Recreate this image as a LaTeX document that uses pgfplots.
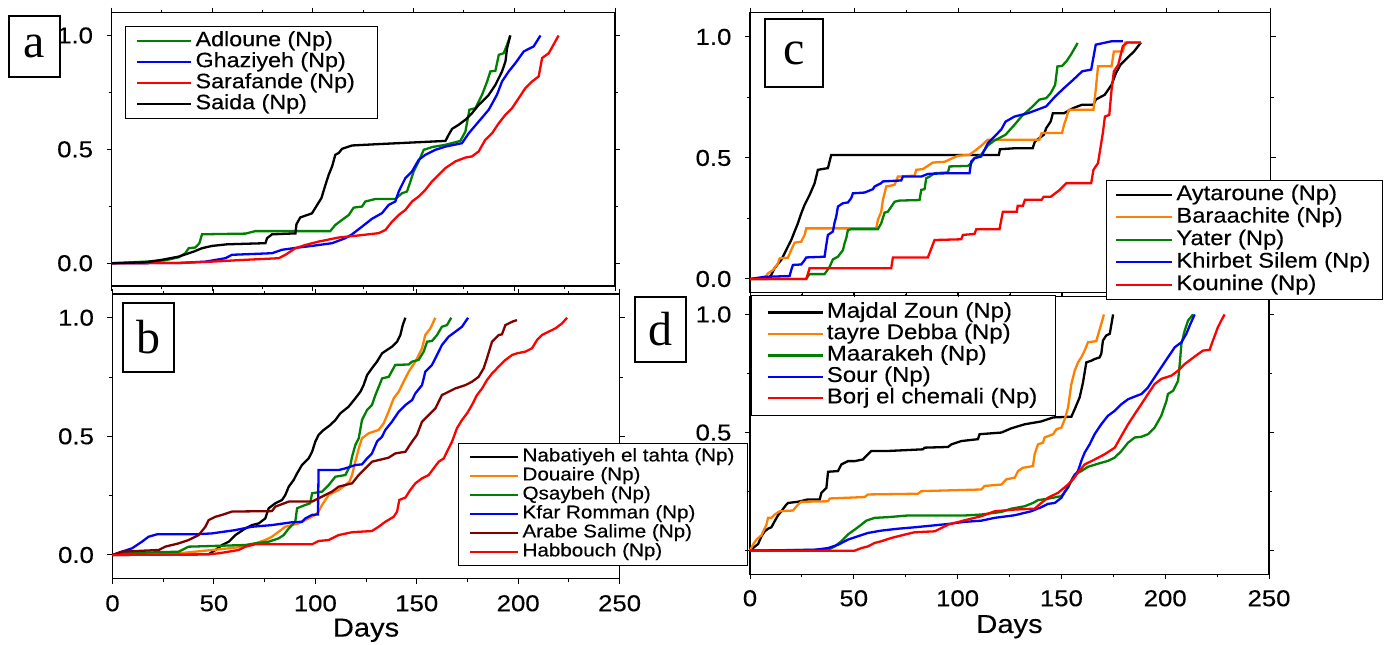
\documentclass[border=0pt]{standalone}
\usepackage{fontspec}
\setmainfont{Liberation Sans}[FakeStretch=1.12, FakeBold=0.3]
\newfontfamily\lblfont{Liberation Serif}
\usepackage{pgfplots}
\pgfplotsset{compat=1.18}

\definecolor{cgreen}{RGB}{0,128,0}
\definecolor{corange}{RGB}{255,128,0}
\definecolor{cmaroon}{RGB}{128,0,0}

\pgfplotsset{
  panel/.style={
    scale only axis, anchor=south west, clip=false,
    xmin=0, xmax=250,
    xtick={0,50,...,250}, ytick={0,0.5,1},
    yticklabels={0.0,0.5,1.0},
    minor x tick num=1, minor y tick num=1,
    tick align=outside,
    major tick length=2.5pt, minor tick length=1.5pt,
    every tick/.style={black, line width=0.5pt},
    axis line style={line width=0.7pt},
    ticklabel style={font=\fontsize{11.5}{13}\selectfont},
    yticklabel style={anchor=east, inner sep=0pt, xshift=-6.6pt},
    xticklabel style={anchor=center, inner sep=0pt, yshift=-9.8pt},
    xlabel style={font=\fontsize{13}{15}\selectfont, at={(axis description cs:0.5,0)}, anchor=center, yshift=-25.8pt},
    every axis plot/.append style={line width=1.15pt},
    legend cell align=left,
  },
  % x, y, font size, text height, text depth, inner ysep, inner xsep, sample length
  lgd/.style n args={8}{
    legend image code/.code={\draw[##1] (0pt,0pt) -- (#8,0pt);},
    legend style={at={(axis description cs:#1,#2)}, anchor=north west,
      draw=black, line width=0.5pt, fill=white, inner ysep=#6, inner xsep=#7,
      font=\fontsize{#3}{#3}\selectfont, row sep=0pt,
      nodes={text height=#4, text depth=#5, inner ysep=0pt, inner xsep=1.5pt}}},
}
\newcommand{\panellabel}[4]{\node[draw, line width=0.8pt, minimum width=#3, minimum height=#4, inner sep=0pt,
  font=\lblfont\fontsize{24}{24}\selectfont] at (axis description cs:#1) {#2};}

\begin{document}
\begin{tikzpicture}
\useasboundingbox (0,0) rectangle (698.5pt,322pt);

% ---- a
\begin{axis}[panel, at={(55.8pt,179pt)}, width=251.7pt, height=136.65pt,
  ymin=-0.1, ymax=1.1, xticklabels={},
  lgd={0.0266}{0.951}{10.4}{7.8pt}{2.7pt}{2pt}{5.4pt}{27pt}]
\addplot[cgreen] coordinates {(0,0) (16.8,0.007) (26.7,0.013) (33.3,0.026) (36.6,0.044) (38.3,0.066) (41.6,0.069) (43.6,0.088) (44.9,0.127) (66.4,0.130) (71.4,0.141) (108.6,0.141) (111.1,0.168) (114.4,0.190) (117.8,0.212) (120.2,0.244) (124.4,0.249) (126,0.271) (131,0.282) (140.9,0.282) (144.2,0.307) (146.7,0.315) (148.4,0.359) (150,0.403) (152.5,0.447) (155,0.498) (159.1,0.510) (165.8,0.520) (173.2,0.537) (175.7,0.578) (177.7,0.674) (180.7,0.681) (184,0.740) (186.5,0.798) (188.1,0.842) (190.6,0.845) (192.3,0.915) (194.7,0.922) (196.4,0.959) (198,1.0)};
\addplot[blue] coordinates {(0,0) (33.3,0.001) (46.6,0.007) (56.5,0.022) (59.8,0.037) (79.7,0.044) (84.6,0.059) (92.9,0.069) (99.5,0.076) (109.5,0.088) (116.1,0.110) (119.4,0.127) (124.4,0.161) (129.3,0.195) (134.3,0.220) (137.6,0.256) (140.9,0.271) (142.6,0.315) (145.9,0.374) (149.2,0.403) (152.5,0.454) (155.8,0.476) (160.8,0.498) (165.8,0.512) (174.0,0.527) (177.4,0.571) (182.3,0.622) (187.3,0.674) (191.4,0.740) (193.9,0.798) (197.2,0.842) (200.5,0.878) (204.7,0.930) (209.6,0.952) (213,1.0)};
\addplot[red] coordinates {(0,0) (33.3,0.001) (49.9,0.007) (66.4,0.015) (83,0.022) (86.3,0.037) (91.3,0.066) (96.2,0.080) (102.8,0.095) (112.8,0.113) (122.7,0.122) (132.6,0.132) (136,0.146) (139.3,0.183) (142.6,0.212) (145.9,0.234) (149.2,0.271) (152.5,0.293) (155.8,0.322) (159.1,0.359) (162.4,0.388) (165.8,0.418) (170.7,0.447) (175.7,0.464) (179,0.469) (182.3,0.491) (185.6,0.542) (189,0.571) (192.3,0.615) (195.6,0.652) (198.9,0.681) (202.2,0.725) (205.5,0.769) (208.8,0.798) (212.1,0.820) (213.8,0.901) (217.1,0.922) (222,1.0)};
\addplot[black] coordinates {(0,0) (16.8,0.004) (25,0.015) (33.3,0.029) (40.8,0.051) (44.9,0.066) (49.9,0.076) (57.3,0.083) (76.4,0.088) (77.2,0.110) (79.7,0.127) (91.3,0.131) (91.8,0.171) (93.7,0.201) (99.5,0.219) (104.2,0.286) (106.2,0.344) (107.8,0.388) (109.5,0.425) (111.1,0.476) (112.8,0.484) (114.4,0.502) (119.4,0.517) (132.6,0.523) (149.2,0.530) (165.8,0.537) (167.4,0.564) (169.1,0.590) (172.4,0.608) (175.7,0.630) (179,0.659) (182.3,0.695) (187.3,0.739) (190.6,0.783) (193.9,0.842) (195.6,0.886) (196.4,0.944) (198,1.0)};
\legend{Adloune (Np),Ghaziyeh (Np),\makebox[84pt][l]{Sarafande (Np)},Saida (Np)}
\panellabel{-0.153,0.876}{a}{25.5pt}{30.5pt}
\end{axis}

% ---- b
\begin{axis}[panel, at={(56.25pt,32.65pt)}, width=253.55pt, height=142.35pt,
  ymin=-0.1, ymax=1.1, xticklabels={0,50,100,150,200,250}, xlabel={Days},
  lgd={0.682}{0.477}{9.2}{7pt}{2.5pt}{2pt}{5.2pt}{24pt}]
\addplot[black] coordinates {(0,0) (47.4,0.003) (50.7,0.021) (54,0.042) (57.3,0.056) (60.6,0.084) (65.5,0.112) (68.8,0.126) (72.1,0.133) (75.3,0.154) (77,0.197) (80.3,0.218) (83.6,0.232) (85.2,0.253) (86.9,0.288) (89.3,0.316) (91,0.344) (93.4,0.379) (96.7,0.407) (98.4,0.435) (100,0.478) (101.6,0.506) (104.1,0.527) (107.4,0.548) (109.9,0.569) (112.3,0.597) (116.4,0.625) (119.7,0.660) (122.2,0.688) (123.8,0.716) (125.5,0.758) (127.9,0.787) (130.4,0.815) (132.9,0.850) (135.3,0.864) (137.8,0.878) (140.3,0.899) (141.9,0.927) (143.1,0.969) (144.4,1.0)};
\addplot[corange] coordinates {(0,0) (32.6,0.007) (49.1,0.021) (65.5,0.035) (70.4,0.049) (75.3,0.063) (78.6,0.077) (81.9,0.098) (85.2,0.119) (91.8,0.133) (96.7,0.154) (100,0.169) (101.6,0.183) (103.3,0.211) (106.6,0.253) (111.5,0.274) (114.8,0.295) (116.8,0.309) (118.1,0.337) (119.7,0.393) (121.4,0.449) (123,0.492) (126.3,0.513) (131.2,0.527) (133.7,0.555) (136.1,0.604) (138.6,0.660) (141.1,0.688) (143.5,0.730) (146,0.772) (149.3,0.815) (151,0.843) (152.6,0.871) (154.2,0.927) (156.7,0.955) (159.2,1.0)};
\addplot[cgreen] coordinates {(0,0) (4.7,0.007) (32.6,0.014) (37.5,0.035) (65.5,0.042) (70.4,0.049) (77,0.056) (81.9,0.070) (84.4,0.084) (86.9,0.112) (90.1,0.140) (91,0.197) (95.1,0.211) (97.5,0.218) (98.4,0.260) (103.3,0.267) (106.6,0.295) (109.9,0.330) (114.8,0.337) (117.3,0.379) (118.1,0.414) (119.7,0.463) (121.4,0.492) (123,0.569) (125.5,0.611) (127.9,0.632) (129.6,0.674) (132.9,0.744) (136.2,0.751) (139.4,0.801) (146,0.803) (147.7,0.815) (150.9,0.822) (153.4,0.857) (155.1,0.899) (157.5,0.902) (160,0.927) (162.4,0.962) (164.9,0.969) (167,1.0)};
\addplot[blue] coordinates {(0,0) (4.7,0.014) (9.6,0.028) (14.5,0.056) (17.8,0.077) (21.9,0.087) (40.8,0.087) (49.1,0.091) (60.6,0.105) (68.8,0.119) (78.6,0.126) (88.5,0.138) (93.4,0.140) (95.1,0.154) (98.4,0.169) (101.3,0.171) (101.6,0.358) (111.5,0.358) (114.8,0.365) (119.7,0.379) (123,0.382) (125.5,0.407) (127.9,0.428) (130.4,0.478) (132.9,0.499) (134.5,0.527) (137.8,0.562) (141.1,0.604) (144.4,0.632) (147.7,0.653) (149.3,0.681) (152.6,0.716) (154.2,0.772) (157.5,0.801) (160,0.843) (162.4,0.885) (165.7,0.920) (169,0.941) (172.3,0.962) (175.3,1.0)};
\addplot[cmaroon] coordinates {(0,0) (4.7,0.014) (22.8,0.021) (26.0,0.035) (32.6,0.049) (37.5,0.063) (42.5,0.084) (45.8,0.119) (47.4,0.147) (50.7,0.161) (54,0.169) (58.9,0.183) (78.6,0.185) (80.3,0.204) (86.9,0.225) (98.4,0.225) (104.9,0.253) (108.2,0.267) (111.5,0.288) (118.1,0.302) (121.4,0.337) (124.6,0.365) (127.9,0.393) (131.2,0.400) (136.1,0.410) (139.4,0.428) (144.4,0.435) (147.7,0.478) (150.1,0.506) (152.6,0.562) (155.9,0.590) (159.2,0.618) (162.4,0.674) (165.7,0.688) (169,0.702) (174,0.716) (177.2,0.730) (180.5,0.751) (183,0.787) (184.6,0.829) (187.1,0.899) (190.4,0.927) (192,0.930) (193.7,0.969) (197,0.983) (199.4,0.990)};
\addplot[red] coordinates {(0,0) (47.4,0.003) (52.3,0.007) (57.3,0.014) (62.2,0.021) (65.5,0.035) (70.4,0.045) (98.4,0.045) (101.6,0.059) (106.6,0.063) (111.5,0.084) (118.1,0.096) (127.9,0.101) (131.2,0.119) (134.5,0.140) (138.6,0.161) (140.3,0.183) (141.4,0.232) (144.4,0.242) (146.8,0.274) (149.3,0.302) (152.6,0.323) (155.9,0.337) (158.3,0.365) (160.8,0.393) (163.3,0.407) (165.7,0.449) (167.4,0.478) (169.8,0.534) (172.3,0.569) (174.8,0.597) (177.2,0.632) (179.7,0.674) (182.2,0.702) (184.6,0.737) (187.1,0.765) (190.4,0.794) (193.7,0.822) (197,0.843) (199.4,0.850) (203.5,0.857) (206.8,0.871) (209.3,0.906) (211.7,0.927) (215,0.941) (218.3,0.955) (221.6,0.976) (224.1,1.0)};
\legend{Nabatiyeh el tahta (Np),Douaire (Np),Qsaybeh (Np),Kfar Romman (Np),Arabe Salime (Np),Habbouch (Np)}
\panellabel{0.071,0.847}{b}{25.5pt}{34.5pt}
\end{axis}

% ---- d
\begin{axis}[panel, at={(375pt,34.85pt)}, width=259.5pt, height=138.8pt,
  ymin=-0.1, ymax=1.075, yticklabels={{},0.5,1.0}, xticklabels={0,50,100,150,200,250}, xlabel={Days},
  xticklabel style={yshift=0.3pt}, xlabel style={yshift=-0.4pt},
  lgd={0.002}{1.006}{10.7}{7.9pt}{2.8pt}{3.2pt}{7.5pt}{27.5pt}]
\addplot[black] coordinates {(0,0) (1.4,0.011) (3.9,0.028) (5.5,0.061) (7.1,0.082) (8.7,0.093) (10.3,0.099) (11.9,0.125) (13.5,0.150) (15.1,0.167) (17.5,0.195) (18.3,0.202) (23.1,0.207) (27.9,0.217) (33.6,0.217) (34.4,0.245) (36.8,0.266) (37.6,0.334) (42.4,0.337) (44,0.365) (47.2,0.379) (50.4,0.379) (54.4,0.386) (56,0.401) (58.4,0.422) (66.5,0.422) (83.3,0.429) (84.1,0.436) (95.4,0.439) (97,0.450) (101.8,0.464) (109.8,0.472) (110.6,0.493) (121.1,0.500) (125.9,0.518) (132.3,0.535) (140.3,0.547) (146,0.564) (154.8,0.567) (156.4,0.599) (158.8,0.649) (160.4,0.712) (162,0.797) (164.4,0.804) (166,0.811) (168.4,0.818) (169.2,0.833) (170.0,0.889) (171.6,0.911) (173.3,0.918) (174.9,1.0)};
\addplot[corange] coordinates {(0,0) (1.4,0.025) (3.1,0.047) (5.5,0.065) (7.9,0.110) (8.7,0.139) (10.3,0.139) (11.9,0.153) (14.3,0.167) (20.7,0.170) (23.1,0.195) (24.7,0.207) (37.6,0.209) (38.4,0.221) (55.2,0.227) (56.8,0.238) (80.9,0.241) (82.5,0.252) (111.4,0.259) (113,0.274) (121.1,0.280) (123.5,0.302) (127.5,0.309) (129.1,0.337) (131.5,0.351) (136.3,0.358) (137.1,0.408) (138.7,0.450) (141.1,0.457) (141.9,0.479) (146,0.493) (147.6,0.514) (150,0.521) (151.6,0.556) (153.2,0.606) (154.8,0.705) (156.4,0.762) (158,0.797) (159.6,0.819) (161.2,0.847) (162.8,0.882) (166.8,0.887) (169.2,0.960) (170.5,1.0)};
\addplot[cgreen] coordinates {(0,0) (37.6,0.004) (40.8,0.018) (44,0.040) (47.2,0.069) (50.4,0.089) (53.6,0.110) (56,0.127) (60.1,0.139) (66.5,0.142) (76.1,0.149) (103.4,0.149) (111.4,0.153) (121.1,0.164) (125.9,0.178) (132.3,0.188) (136.3,0.202) (138.7,0.214) (143.5,0.220) (150,0.231) (153.2,0.266) (156.4,0.323) (159.6,0.337) (162.8,0.355) (167.6,0.368) (172.4,0.380) (175.7,0.394) (178.9,0.422) (182.1,0.457) (185.3,0.479) (188.5,0.482) (191.7,0.493) (194.9,0.521) (198.1,0.571) (200.6,0.634) (201.3,0.663) (203.8,0.677) (205.4,0.705) (206.2,0.719) (207,0.790) (207.8,0.875) (209.4,0.932) (211,0.974) (213.4,1.0)};
\addplot[blue] coordinates {(0,0) (31.2,0.004) (37.6,0.011) (42.4,0.025) (47.2,0.047) (52.0,0.061) (56.8,0.075) (63.3,0.085) (71.3,0.093) (79.3,0.099) (87.4,0.106) (95.4,0.113) (103.4,0.122) (111.4,0.127) (117.9,0.139) (127.5,0.150) (135.5,0.167) (140.3,0.184) (143.5,0.198) (146.8,0.202) (150,0.224) (153.2,0.273) (155.6,0.309) (158,0.337) (159.6,0.380) (161.2,0.415) (163.6,0.450) (166,0.493) (169.2,0.535) (172.4,0.571) (175.7,0.592) (178.9,0.620) (182.1,0.641) (186.1,0.655) (188.5,0.663) (191.7,0.691) (194.9,0.734) (198.1,0.776) (201.3,0.818) (204.6,0.861) (207.8,0.882) (210.2,0.918) (211.8,0.953) (214.2,1.0)};
\addplot[red] coordinates {(0,0) (50.4,0) (53.6,0.011) (56.8,0.018) (60.1,0.033) (63.3,0.040) (68.1,0.054) (74.5,0.068) (79.3,0.078) (89,0.082) (92.2,0.096) (95.4,0.110) (101.8,0.125) (111.4,0.146) (117.9,0.167) (127.5,0.174) (137.1,0.178) (140.3,0.202) (143.5,0.224) (148.4,0.245) (153.2,0.280) (155.6,0.302) (158,0.331) (161.2,0.365) (166,0.386) (170.8,0.408) (175.7,0.436) (178.9,0.486) (182.1,0.535) (185.3,0.578) (188.5,0.620) (191.7,0.663) (194.9,0.705) (198.1,0.727) (203,0.741) (206.2,0.762) (209.4,0.790) (212.6,0.811) (215.8,0.832) (218.2,0.847) (221.4,0.850) (223,0.890) (225.4,0.946) (227,0.974) (228.6,1.0)};
\legend{Majdal Zoun (Np),tayre Debba (Np),Maarakeh (Np),Sour (Np),Borj el chemali (Np)}
\panellabel{-0.172,0.882}{d}{25.5pt}{32.5pt}
\end{axis}

% ---- c
\begin{axis}[panel, at={(375pt,175.85pt)}, width=260.35pt, height=139.8pt,
  ymin=-0.055, ymax=1.1, xticklabels={},
  lgd={0.683}{0.402}{10.6}{8.3pt}{2.95pt}{1.55pt}{4.5pt}{28pt}]
\addplot[black] coordinates {(0,0) (8.6,0) (10.2,0.017) (11.8,0.045) (15,0.079) (16.6,0.106) (18.2,0.134) (19.8,0.161) (21.4,0.196) (23,0.230) (24.6,0.271) (26.2,0.306) (28.6,0.347) (31,0.395) (32.6,0.451) (37.4,0.458) (39,0.512) (119.5,0.512) (120,0.536) (127,0.540) (135.7,0.540) (136.8,0.568) (141.1,0.596) (142.2,0.623) (144.4,0.651) (145.4,0.685) (150.8,0.685) (155.2,0.706) (159.5,0.720) (164.9,0.720) (166,0.741) (170.3,0.761) (173.6,0.802) (175.7,0.851) (177.9,0.885) (181.1,0.913) (184.4,0.940) (187.7,0.977)};
\addplot[corange] coordinates {(0,0) (7.0,0.002) (8.6,0.023) (11.0,0.037) (13.4,0.064) (14.2,0.085) (18.2,0.088) (19.8,0.120) (21.4,0.150) (24.6,0.154) (26.2,0.182) (27,0.209) (60.6,0.209) (61.4,0.244) (63,0.278) (63.8,0.326) (64.6,0.354) (65.4,0.382) (69.4,0.389) (71,0.423) (79,0.427) (79.8,0.451) (83,0.454) (87.8,0.481) (93.4,0.484) (99.8,0.509) (105.4,0.513) (108,0.53) (111,0.55) (114.1,0.575) (138.9,0.575) (140,0.603) (149.8,0.603) (150.8,0.637) (151.9,0.665) (153,0.699) (164.9,0.699) (166,0.782) (167.1,0.879) (173.6,0.879) (174.7,0.940) (179,0.940) (180.1,0.977) (187.7,0.977)};
\addplot[cgreen] coordinates {(0,0) (27,0) (27.8,0.011) (28.6,0.020) (35.8,0.020) (38.2,0.050) (39.8,0.081) (42.2,0.092) (44.6,0.119) (45.4,0.147) (46.2,0.168) (47,0.202) (48.6,0.206) (61.4,0.206) (63,0.230) (64.6,0.274) (66.2,0.278) (69.4,0.319) (71.8,0.324) (81.4,0.326) (82.2,0.368) (83.8,0.371) (84.6,0.416) (86.2,0.423) (88.6,0.437) (95,0.440) (95.8,0.465) (104.6,0.467) (106.2,0.478) (107.8,0.499) (111,0.513) (114,0.55) (117,0.57) (122.7,0.596) (127,0.637) (130.3,0.671) (135.7,0.713) (138.9,0.741) (142.2,0.747) (144.4,0.768) (146.5,0.802) (147.6,0.878) (149.8,0.880) (151.9,0.899) (154.1,0.927) (157.3,0.975)};
\addplot[blue] coordinates {(0,0) (7.0,0.009) (19.0,0.012) (19.8,0.037) (20.6,0.058) (24.6,0.060) (26.2,0.078) (27,0.089) (35.8,0.092) (36.6,0.140) (37.4,0.182) (39.8,0.196) (40.6,0.233) (41.4,0.258) (42.2,0.299) (44.6,0.313) (47,0.316) (48.6,0.334) (49.4,0.354) (55,0.357) (59,0.371) (59.8,0.382) (63,0.396) (63.8,0.403) (72.6,0.407) (73.4,0.423) (82.2,0.423) (85.4,0.434) (95,0.437) (105.4,0.437) (106.2,0.485) (107.8,0.499) (111,0.506) (114.2,0.561) (117.4,0.589) (120.6,0.617) (122.7,0.650) (127,0.671) (133.5,0.685) (142.2,0.713) (146.5,0.754) (150.8,0.789) (155.2,0.823) (159.5,0.858) (163.8,0.865) (166,0.968) (173.6,0.982) (179,0.982)};
\addplot[red] coordinates {(0,0) (27,0) (28.6,0.044) (67.8,0.044) (68.6,0.089) (85.4,0.089) (88.6,0.161) (101.4,0.164) (102.2,0.182) (107.8,0.186) (108.6,0.205) (119.8,0.206) (121.4,0.278) (128.1,0.278) (128.5,0.302) (131,0.302) (132,0.327) (140,0.327) (141,0.340) (144.4,0.340) (148.7,0.368) (151.9,0.396) (163.8,0.396) (164.9,0.451) (167.1,0.479) (169.4,0.603) (170.4,0.671) (172.5,0.678) (173.6,0.782) (174.7,0.858) (176.8,0.885) (179,0.962) (181.1,0.977) (187.7,0.977)};
\legend{Aytaroune (Np),Baraachite (Np),Yater (Np),Khirbet Silem (Np),Kounine (Np)}
\panellabel{0.0845,0.856}{c}{29pt}{34pt}
\end{axis}
\end{tikzpicture}
\end{document}
